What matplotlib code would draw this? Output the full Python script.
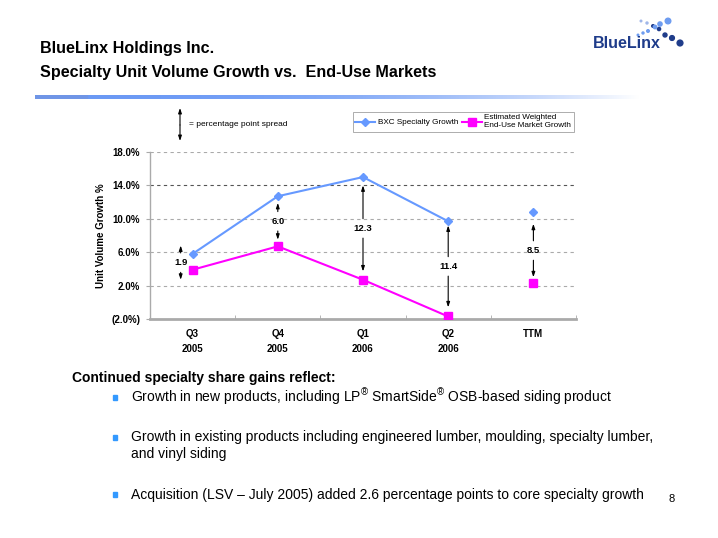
import matplotlib
matplotlib.use("Agg")
import matplotlib.pyplot as plt
import numpy as np
from matplotlib.patches import Rectangle, Circle

plt.rcParams['font.family'] = ['Liberation Sans', 'DejaVu Sans']
plt.rcParams['mathtext.fontset'] = 'custom'
plt.rcParams['mathtext.rm'] = 'Liberation Sans'
plt.rcParams['mathtext.it'] = 'Liberation Sans'

# ---- data ----
categories = ["Q3\n2005", "Q4\n2005", "Q1\n2006", "Q2\n2006", "TTM"]
bxc_growth = [5.8, 12.7, 15.0, 9.7, 10.8]
market_growth = [3.9, 6.7, 2.7, -1.7, 2.3]
spread_labels = ["1.9", "6.0", "12.3", "11.4", "8.5"]
yticks = [-2, 2, 6, 10, 14, 18]
ytick_labels = ["(2.0%)", "2.0%", "6.0%", "10.0%", "14.0%", "18.0%"]

W, H = 718, 538
fig = plt.figure(figsize=(W / 100, H / 100), dpi=100)

def fx(px):
    return px / W

def fy(py):
    return 1 - py / H

# ---- title ----
fig.text(fx(40), fy(48), "BlueLinx Holdings Inc.", fontsize=11.6, fontweight='bold', va='center', ha='left')
fig.text(fx(40), fy(72), "Specialty Unit Volume Growth vs.  End-Use Markets", fontsize=11.6,
         fontweight='bold', va='center', ha='left')

# ---- gradient bar ----
gax = fig.add_axes([fx(35), fy(99), fx(640) - fx(35), (99 - 95) / H])
grad = np.linspace(0, 1, 256)
c0 = np.array([0.42, 0.60, 0.96])
c1 = np.array([1.0, 1.0, 1.0])
w = grad[:, None] ** 2.5
img = (c0[None, :] * (1 - w) + c1[None, :] * w)[None, :, :]
gax.imshow(img, aspect='auto', extent=[0, 1, 0, 1])
gax.add_patch(Rectangle((0, 0), (87 - 35) / (640 - 35), 1, color='#6F95E6', transform=gax.transAxes))
gax.axis('off')

# ---- logo ----
fig.text(fx(593), fy(44), "BlueLinx", fontsize=11.5, fontweight='bold', color='#1F3C8A',
         va='center', ha='left')
dots_dark = [(641, 21, 0.8), (647, 23, 1.0), (653, 26, 1.3), (659, 29, 1.6), (665, 35, 2.0), (672, 38, 2.4), (680, 43, 2.9)]
dots_light = [(638, 35, 0.8), (643, 33, 1.0), (648, 31, 1.3), (655, 27, 1.7), (660, 24, 2.1), (668, 21, 2.8)]
for i, (x, y, r) in enumerate(dots_dark):
    col = '#9FB6E8' if i < 2 else '#1F3C8A'
    fig.patches.append(Circle((x, H - y), r, color=col, transform=None))
for i, (x, y, r) in enumerate(dots_light):
    fig.patches.append(Circle((x, H - y), r, color='#6E9CF0', transform=None))

# ---- chart ----
ax = fig.add_axes([fx(150), fy(319), fx(576) - fx(150), (319 - 152) / H])
x = np.arange(len(categories))
ax.set_xlim(-0.5, len(categories) - 0.5)
ax.set_ylim(yticks[0], yticks[-1])

for yv in yticks[1:]:
    col = '#555555' if yv == 14 else '#AAAAAA'
    ax.axhline(yv, color=col, lw=0.8, ls=(0, (3, 3)), zorder=1)

bxc_col = '#6699FF'
mkt_col = '#FF00FF'
ax.plot(x[:4], bxc_growth[:4], color=bxc_col, lw=1.5, marker='D', ms=4.5, zorder=3,
        label='BXC Specialty Growth')
ax.plot(x[4], bxc_growth[4], color=bxc_col, marker='D', ms=4.5, ls='none', zorder=3)
ax.plot(x[:4], market_growth[:4], color=mkt_col, lw=1.5, marker='s', ms=5.5, zorder=3,
        label='Estimated Weighted\nEnd-Use Market Growth')
ax.plot(x[4], market_growth[4], color=mkt_col, marker='s', ms=5.5, ls='none', zorder=3)

# spread arrows (positions derived from data)
arrow_dx = [-0.14, 0, 0, 0, 0]
top_pad = [1.0, -0.8, -1.0, -0.5, -1.4]
bot_pad = [-1.2, 0.8, 1.0, 1.1, 0.7]
head = '-|>,head_length=0.3,head_width=0.1'
for i in range(len(categories)):
    xa = x[i] + arrow_dx[i]
    top = bxc_growth[i] + top_pad[i]
    bot = market_growth[i] + bot_pad[i]
    mid = (top + bot) / 2
    ax.text(xa, mid, spread_labels[i], ha='center', va='center', fontsize=6.8, fontweight='bold', zorder=4)
    for end in (top, bot):
        ax.annotate('', xy=(xa, end), xytext=(xa, mid),
                    arrowprops=dict(arrowstyle=head, color='black',
                                    lw=0.8, shrinkA=7, shrinkB=0), zorder=4)

ax.set_yticks(yticks)
ax.set_yticklabels(ytick_labels, fontsize=7, fontweight='bold')
ax.set_xticks(x)
ax.set_xticklabels(categories, fontsize=7, fontweight='bold', linespacing=1.6)
ax.set_xticks(np.arange(len(categories) + 1) - 0.5, minor=True)
ax.tick_params(axis='x', which='major', length=0, pad=7)
ax.tick_params(axis='x', which='minor', length=3, direction='in', color='#AAAAAA')
ax.tick_params(axis='y', length=3, color='#AAAAAA', pad=4)
for s in ('top', 'right'):
    ax.spines[s].set_visible(False)
ax.spines['left'].set_color('#AAAAAA')
ax.spines['left'].set_linewidth(1)
ax.spines['bottom'].set_color('#AAAAAA')
ax.spines['bottom'].set_linewidth(2)
ax.set_ylabel("Unit Volume Growth %", fontsize=7, fontweight='bold', labelpad=4)

leg = fig.legend(loc='upper left', bbox_to_anchor=(fx(353), fy(112)), ncol=2, fontsize=5.9,
                 frameon=True, fancybox=False, edgecolor='#888888', borderpad=0.3,
                 handlelength=2.4, columnspacing=0.5, handletextpad=0.3, borderaxespad=0)
leg.get_frame().set_linewidth(0.6)

# spread legend
ax.annotate('', xy=(fx(180), fy(108)), xytext=(fx(180), fy(125)), xycoords='figure fraction',
            arrowprops=dict(arrowstyle=head, color='black', lw=0.8, shrinkA=0, shrinkB=0))
ax.annotate('', xy=(fx(180), fy(141)), xytext=(fx(180), fy(125)), xycoords='figure fraction',
            arrowprops=dict(arrowstyle=head, color='black', lw=0.8, shrinkA=0, shrinkB=0))
fig.text(fx(189), fy(125), "= percentage point spread", fontsize=6, ha='left', va='center')

# ---- bullet text ----
fig.text(fx(72), fy(378), "Continued specialty share gains reflect:", fontsize=10, fontweight='bold',
         ha='left', va='center')
bullets = [
    (397, "Growth in new products, including LP$^{®}$ SmartSide$^{®}$ OSB-based siding product"),
    (437, "Growth in existing products including engineered lumber, moulding, specialty lumber,\nand vinyl siding"),
    (494, "Acquisition (LSV – July 2005) added 2.6 percentage points to core specialty growth"),
]
for yb, txt in bullets:
    fig.patches.append(Rectangle((113, H - yb - 2.5), 4, 5, color='#3399FF', transform=None))
    if '\n' in txt:
        fig.text(fx(131), fy(yb - 7), txt, fontsize=10, ha='left', va='top', linespacing=1.3)
    else:
        fig.text(fx(131), fy(yb + 5), txt, fontsize=10, ha='left', va='baseline')
fig.text(fx(672), fy(499), "8", fontsize=8, ha='center', va='center')

fig.savefig("out.png", dpi=100)
